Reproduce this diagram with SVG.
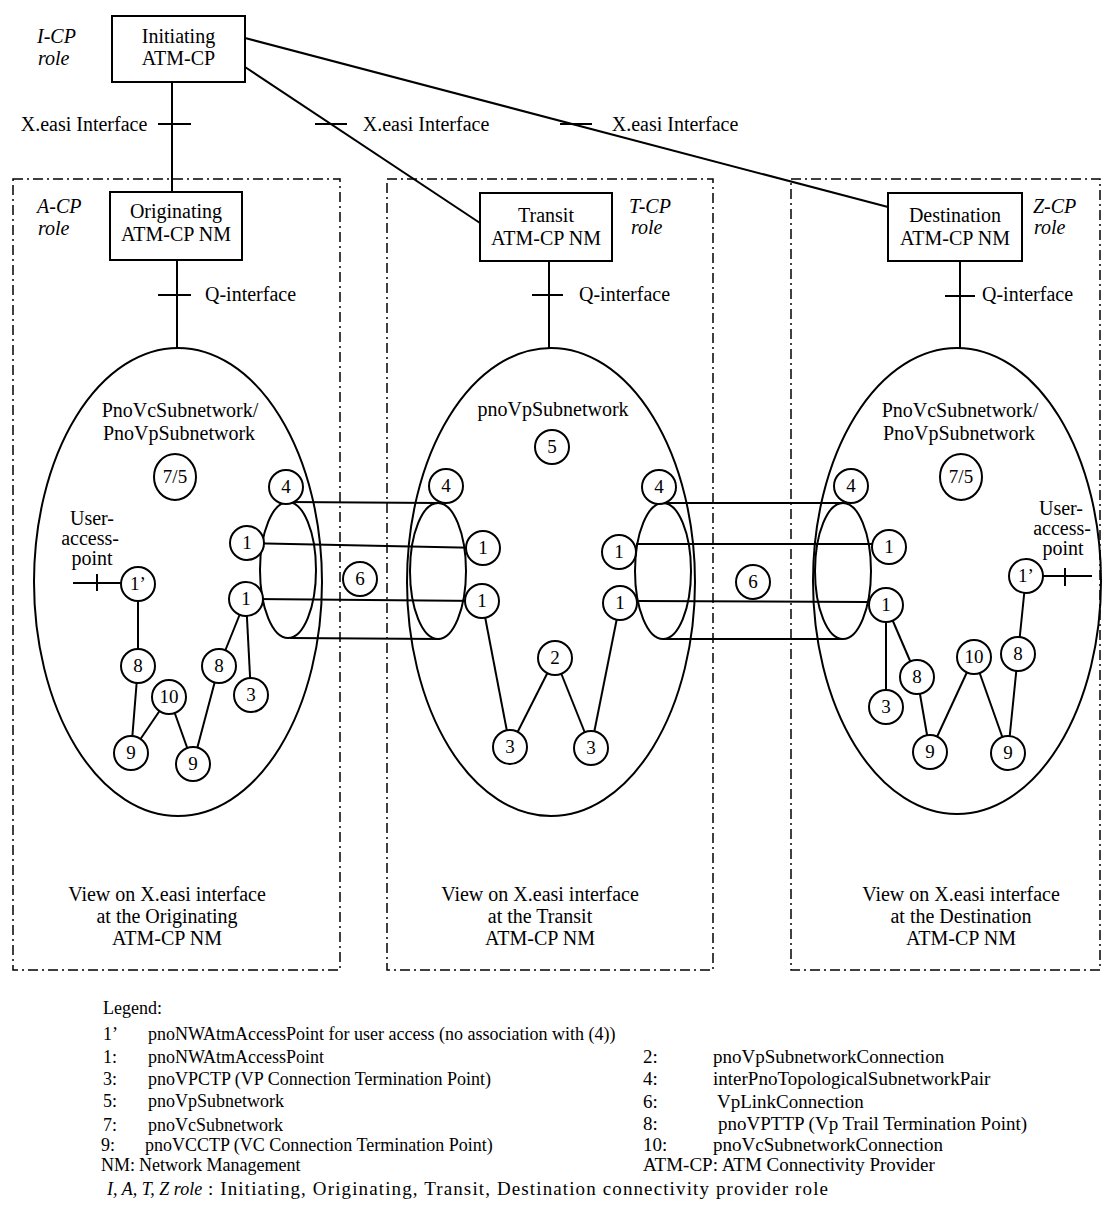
<svg xmlns="http://www.w3.org/2000/svg" width="1104" height="1219" viewBox="0 0 1104 1219">
<style>
.t{font-family:"Liberation Serif","Times New Roman",serif;font-size:20px;fill:#000}
.i{font-style:italic}
.c{text-anchor:middle}
.box{fill:#fff;stroke:#000;stroke-width:2}
.ln{stroke:#000;stroke-width:2;fill:none}
.cir{fill:#fff;stroke:#000;stroke-width:2}
.ell{fill:none;stroke:#000;stroke-width:2}
.frame{fill:none;stroke:#000;stroke-width:1.5;stroke-dasharray:10 4 2 4}
.lg{font-size:18px}
.lr{font-size:19px}
.num{font-size:19px;text-anchor:middle}
</style>
<rect width="1104" height="1219" fill="#fff"/>

<g id="frames">
<rect class="frame" x="13" y="179" width="327" height="791"/>
<rect class="frame" x="387" y="179" width="326" height="791"/>
<rect class="frame" x="791" y="179" width="309" height="791"/>
</g>

<g id="subnetworks">
<g id="subnet-originating"><ellipse class="ell" cx="178" cy="582" rx="144" ry="234"/>
<text class="t c" x="180" y="417">PnoVcSubnetwork/</text><text class="t c" x="179" y="440">PnoVpSubnetwork</text></g>
<g id="subnet-transit"><ellipse class="ell" cx="551" cy="582" rx="144" ry="234"/>
<text class="t c" x="553" y="416">pnoVpSubnetwork</text></g>
<g id="subnet-destination"><ellipse class="ell" cx="957" cy="581" rx="144" ry="233"/>
<text class="t c" x="960" y="417">PnoVcSubnetwork/</text><text class="t c" x="959" y="440">PnoVpSubnetwork</text></g>
</g>

<g id="tubes">
<g id="tube-left"><ellipse class="ell" cx="288" cy="570" rx="28" ry="68"/><ellipse class="ell" cx="438" cy="571" rx="28" ry="68"/></g>
<g id="tube-right"><ellipse class="ell" cx="663" cy="571" rx="28" ry="68"/><ellipse class="ell" cx="843" cy="571" rx="28" ry="68"/></g>
</g>

<g id="connectors" class="ln">
<line class="ln" x1="172" y1="82" x2="172" y2="192"/>
<line class="ln" x1="158" y1="124" x2="191" y2="124"/>
<line class="ln" x1="245" y1="67" x2="480" y2="223"/>
<line class="ln" x1="315" y1="124" x2="347" y2="124"/>
<line class="ln" x1="245" y1="38" x2="888" y2="207"/>
<line class="ln" x1="560" y1="124" x2="592" y2="124"/>
<line class="ln" x1="177" y1="260" x2="177" y2="348"/>
<line class="ln" x1="158" y1="295" x2="191" y2="295"/>
<line class="ln" x1="549" y1="261" x2="549" y2="348"/>
<line class="ln" x1="532" y1="295" x2="563" y2="295"/>
<line class="ln" x1="960" y1="261" x2="960" y2="348"/>
<line class="ln" x1="945" y1="296" x2="975" y2="296"/>
<line class="ln" x1="288" y1="502" x2="438" y2="503"/>
<line class="ln" x1="290" y1="638" x2="440" y2="639"/>
<line class="ln" x1="663" y1="503" x2="843" y2="503"/>
<line class="ln" x1="663" y1="639" x2="843" y2="639"/>
<line class="ln" x1="247" y1="543" x2="483" y2="548"/>
<line class="ln" x1="246" y1="599" x2="482" y2="601"/>
<line class="ln" x1="636" y1="544" x2="872" y2="544"/>
<line class="ln" x1="637" y1="601" x2="869" y2="602"/>
<line class="ln" x1="73" y1="583" x2="121" y2="583"/>
<line class="ln" x1="97" y1="574" x2="97" y2="591"/>
<line class="ln" x1="1043" y1="576" x2="1092" y2="576"/>
<line class="ln" x1="1065" y1="568" x2="1065" y2="586"/>
<line class="ln" x1="138" y1="584" x2="138" y2="666"/>
<line class="ln" x1="138" y1="666" x2="131" y2="753"/>
<line class="ln" x1="131" y1="753" x2="169" y2="697"/>
<line class="ln" x1="169" y1="697" x2="193" y2="764"/>
<line class="ln" x1="193" y1="764" x2="219" y2="666"/>
<line class="ln" x1="219" y1="666" x2="246" y2="599"/>
<line class="ln" x1="246" y1="599" x2="251" y2="695"/>
<line class="ln" x1="482" y1="601" x2="510" y2="747"/>
<line class="ln" x1="510" y1="747" x2="555" y2="658"/>
<line class="ln" x1="555" y1="658" x2="591" y2="748"/>
<line class="ln" x1="591" y1="748" x2="620" y2="603"/>
<line class="ln" x1="886" y1="605" x2="886" y2="707"/>
<line class="ln" x1="886" y1="605" x2="917" y2="677"/>
<line class="ln" x1="917" y1="677" x2="930" y2="752"/>
<line class="ln" x1="930" y1="752" x2="974" y2="657"/>
<line class="ln" x1="974" y1="657" x2="1008" y2="753"/>
<line class="ln" x1="1008" y1="753" x2="1018" y2="654"/>
<line class="ln" x1="1018" y1="654" x2="1026" y2="576"/>
</g>

<g id="boxes">
<g id="initiating"><rect class="box" x="112" y="16" width="133" height="66"/>
<text class="t c" x="178.5" y="43">Initiating</text><text class="t c" x="178.5" y="65">ATM-CP</text></g>
<g id="originating"><rect class="box" x="110" y="192" width="132" height="68"/>
<text class="t c" x="176" y="218">Originating</text><text class="t c" x="176" y="241">ATM-CP NM</text></g>
<g id="transit"><rect class="box" x="480" y="193" width="132" height="68"/>
<text class="t c" x="546" y="222">Transit</text><text class="t c" x="546" y="245">ATM-CP NM</text></g>
<g id="destination"><rect class="box" x="888" y="193" width="134" height="68"/>
<text class="t c" x="955" y="222">Destination</text><text class="t c" x="955" y="245">ATM-CP NM</text></g>
</g>

<g id="labels">
<text class="t i" x="37" y="43">I-CP</text><text class="t i" x="38" y="65">role</text>
<text class="t i" x="37" y="213">A-CP</text><text class="t i" x="38" y="235">role</text>
<text class="t i" x="629" y="213">T-CP</text><text class="t i" x="631" y="234">role</text>
<text class="t i" x="1033" y="213">Z-CP</text><text class="t i" x="1034" y="234">role</text>
<text class="t c" x="84" y="131">X.easi Interface</text>
<text class="t c" x="426" y="131">X.easi Interface</text>
<text class="t c" x="675" y="131">X.easi Interface</text>
<text class="t" x="205" y="301">Q-interface</text>
<text class="t" x="579" y="301">Q-interface</text>
<text class="t" x="982" y="301">Q-interface</text>
<text class="t c" x="92" y="525">User-</text><text class="t c" x="90" y="545">access-</text><text class="t c" x="92" y="565">point</text>
<text class="t c" x="1061" y="515">User-</text><text class="t c" x="1062" y="535">access-</text><text class="t c" x="1063" y="555">point</text>
<text class="t c" x="167" y="901">View on X.easi interface</text><text class="t c" x="167" y="923">at the Originating</text><text class="t c" x="167" y="945">ATM-CP NM</text>
<text class="t c" x="540" y="901">View on X.easi interface</text><text class="t c" x="540" y="923">at the Transit</text><text class="t c" x="540" y="945">ATM-CP NM</text>
<text class="t c" x="961" y="901">View on X.easi interface</text><text class="t c" x="961" y="923">at the Destination</text><text class="t c" x="961" y="945">ATM-CP NM</text>
</g>

<g id="elements">
<g id="l-75"><ellipse class="cir" cx="175" cy="477" rx="21" ry="23"/><text class="t num" x="175" y="483">7/5</text></g>
<g id="l-4"><circle class="cir" cx="286" cy="487" r="17"/><text class="t num" x="286" y="493">4</text></g>
<g id="l-1a"><circle class="cir" cx="247" cy="543" r="17"/><text class="t num" x="247" y="549">1</text></g>
<g id="l-1b"><circle class="cir" cx="246" cy="599" r="17"/><text class="t num" x="246" y="605">1</text></g>
<g id="l-1p"><circle class="cir" cx="138" cy="584" r="17"/><text class="t num" x="138" y="590">1’</text></g>
<g id="l-8a"><circle class="cir" cx="138" cy="666" r="17"/><text class="t num" x="138" y="672">8</text></g>
<g id="l-10"><circle class="cir" cx="169" cy="697" r="17"/><text class="t num" x="169" y="703">10</text></g>
<g id="l-8b"><circle class="cir" cx="219" cy="666" r="17"/><text class="t num" x="219" y="672">8</text></g>
<g id="l-3"><circle class="cir" cx="251" cy="695" r="17"/><text class="t num" x="251" y="701">3</text></g>
<g id="l-9a"><circle class="cir" cx="131" cy="753" r="17"/><text class="t num" x="131" y="759">9</text></g>
<g id="l-9b"><circle class="cir" cx="193" cy="764" r="17"/><text class="t num" x="193" y="770">9</text></g>
<g id="l-6"><circle class="cir" cx="360" cy="579" r="17"/><text class="t num" x="360" y="585">6</text></g>

<g id="m-4a"><circle class="cir" cx="446" cy="486" r="17"/><text class="t num" x="446" y="492">4</text></g>
<g id="m-5"><circle class="cir" cx="552" cy="447" r="17"/><text class="t num" x="552" y="453">5</text></g>
<g id="m-1a"><circle class="cir" cx="483" cy="548" r="17"/><text class="t num" x="483" y="554">1</text></g>
<g id="m-1b"><circle class="cir" cx="482" cy="601" r="17"/><text class="t num" x="482" y="607">1</text></g>
<g id="m-4b"><circle class="cir" cx="659" cy="487" r="17"/><text class="t num" x="659" y="493">4</text></g>
<g id="m-1c"><circle class="cir" cx="619" cy="552" r="17"/><text class="t num" x="619" y="558">1</text></g>
<g id="m-1d"><circle class="cir" cx="620" cy="603" r="17"/><text class="t num" x="620" y="609">1</text></g>
<g id="m-2"><circle class="cir" cx="555" cy="658" r="17"/><text class="t num" x="555" y="664">2</text></g>
<g id="m-3a"><circle class="cir" cx="510" cy="747" r="17"/><text class="t num" x="510" y="753">3</text></g>
<g id="m-3b"><circle class="cir" cx="591" cy="748" r="17"/><text class="t num" x="591" y="754">3</text></g>
<g id="m-6"><circle class="cir" cx="753" cy="582" r="17"/><text class="t num" x="753" y="588">6</text></g>

<g id="r-4"><circle class="cir" cx="851" cy="486" r="17"/><text class="t num" x="851" y="492">4</text></g>
<g id="r-75"><ellipse class="cir" cx="961" cy="477" rx="21" ry="23"/><text class="t num" x="961" y="483">7/5</text></g>
<g id="r-1a"><circle class="cir" cx="889" cy="547" r="17"/><text class="t num" x="889" y="553">1</text></g>
<g id="r-1b"><circle class="cir" cx="886" cy="605" r="17"/><text class="t num" x="886" y="611">1</text></g>
<g id="r-1p"><circle class="cir" cx="1026" cy="576" r="17"/><text class="t num" x="1026" y="582">1’</text></g>
<g id="r-3"><circle class="cir" cx="886" cy="707" r="17"/><text class="t num" x="886" y="713">3</text></g>
<g id="r-8a"><circle class="cir" cx="917" cy="677" r="17"/><text class="t num" x="917" y="683">8</text></g>
<g id="r-10"><circle class="cir" cx="974" cy="657" r="17"/><text class="t num" x="974" y="663">10</text></g>
<g id="r-8b"><circle class="cir" cx="1018" cy="654" r="17"/><text class="t num" x="1018" y="660">8</text></g>
<g id="r-9a"><circle class="cir" cx="930" cy="752" r="17"/><text class="t num" x="930" y="758">9</text></g>
<g id="r-9b"><circle class="cir" cx="1008" cy="753" r="17"/><text class="t num" x="1008" y="759">9</text></g>
</g>

<g id="legend" class="t lg">
<text x="103" y="1014">Legend:</text>
<text x="103" y="1040">1’</text><text x="148" y="1040">pnoNWAtmAccessPoint for user access (no association with (4))</text>
<text x="103" y="1063">1:</text><text x="148" y="1063">pnoNWAtmAccessPoint</text>
<text x="103" y="1085">3:</text><text x="148" y="1085">pnoVPCTP (VP Connection Termination Point)</text>
<text x="103" y="1107">5:</text><text x="148" y="1107">pnoVpSubnetwork</text>
<text x="103" y="1131">7:</text><text x="148" y="1131">pnoVcSubnetwork</text>
<text x="101" y="1151">9:</text><text x="145" y="1151">pnoVCCTP (VC Connection Termination Point)</text>
<text x="101" y="1171">NM:</text><text x="139" y="1171">Network Management</text>
<text class="i" x="107" y="1195">I, A, T, Z role</text>
<text x="208" y="1195" style="font-size:19px" textLength="620">: Initiating, Originating, Transit, Destination connectivity provider role</text>
<g class="lr">
<text x="643" y="1063">2:</text><text x="713" y="1063">pnoVpSubnetworkConnection</text>
<text x="643" y="1085">4:</text><text x="713" y="1085">interPnoTopologicalSubnetworkPair</text>
<text x="643" y="1108">6:</text><text x="717" y="1108">VpLinkConnection</text>
<text x="643" y="1130">8:</text><text x="718" y="1130">pnoVPTTP (Vp Trail Termination Point)</text>
<text x="643" y="1151">10:</text><text x="713" y="1151">pnoVcSubnetworkConnection</text>
<text x="643" y="1171">ATM-CP: ATM Connectivity Provider</text>
</g>
</g>
</svg>
